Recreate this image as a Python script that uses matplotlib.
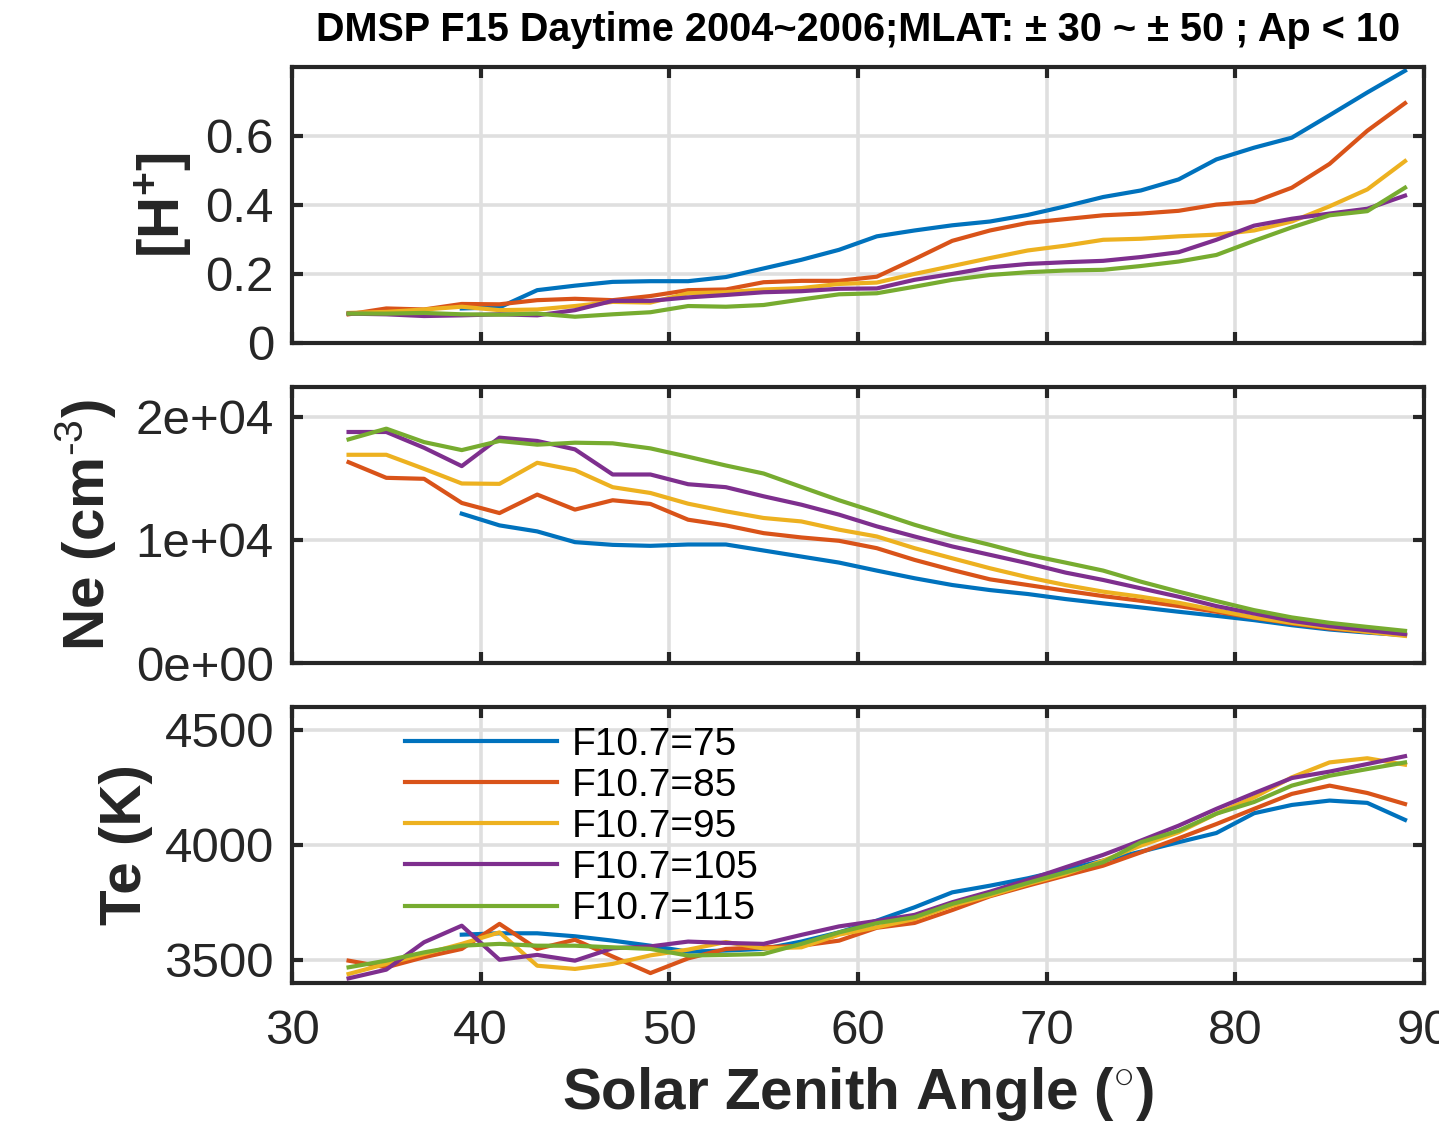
import numpy as np
import matplotlib
matplotlib.use('Agg')
import matplotlib.pyplot as plt
from matplotlib.ticker import FuncFormatter

plt.rcParams['font.family'] = ['Liberation Sans', 'DejaVu Sans']
plt.rcParams['mathtext.fontset'] = 'custom'
plt.rcParams['mathtext.rm'] = 'Liberation Sans'
plt.rcParams['mathtext.bf'] = 'Liberation Sans:bold'
plt.rcParams['mathtext.default'] = 'bf'

# solar zenith angle bins
sza = [33, 35, 37, 39, 41, 43, 45, 47, 49, 51, 53, 55, 57, 59, 61,
       63, 65, 67, 69, 71, 73, 75, 77, 79, 81, 83, 85, 87, 89]
nan = np.nan
labels = ['F10.7=75', 'F10.7=85', 'F10.7=95', 'F10.7=105', 'F10.7=115']
colors = ['#0072BD', '#D95319', '#EDB120', '#7E2F8E', '#77AC30']

# [H+] fraction
h_75 = [nan, nan, nan, 0.100, 0.103, 0.153, 0.166, 0.177, 0.179, 0.179, 0.191, 0.216, 0.241, 0.270, 0.309,
        0.326, 0.341, 0.352, 0.371, 0.396, 0.423, 0.442, 0.474, 0.532, 0.566, 0.595, 0.660, 0.726, 0.789]
h_85 = [0.083, 0.100, 0.097, 0.113, 0.112, 0.124, 0.128, 0.124, 0.136, 0.153, 0.155, 0.176, 0.180, 0.180, 0.192,
        0.243, 0.296, 0.326, 0.348, 0.359, 0.370, 0.375, 0.383, 0.401, 0.409, 0.450, 0.519, 0.615, 0.695]
h_95 = [0.087, 0.090, 0.097, 0.105, 0.095, 0.097, 0.107, 0.119, 0.117, 0.144, 0.147, 0.155, 0.159, 0.171, 0.175,
        0.200, 0.223, 0.246, 0.268, 0.282, 0.299, 0.302, 0.309, 0.314, 0.326, 0.352, 0.396, 0.445, 0.527]
h_105 = [0.085, 0.083, 0.078, 0.080, 0.083, 0.080, 0.095, 0.122, 0.122, 0.132, 0.139, 0.147, 0.150, 0.157, 0.158,
         0.183, 0.200, 0.219, 0.229, 0.234, 0.238, 0.249, 0.263, 0.299, 0.340, 0.360, 0.375, 0.389, 0.427]
h_115 = [0.085, 0.085, 0.087, 0.083, 0.082, 0.085, 0.076, 0.083, 0.089, 0.107, 0.105, 0.110, 0.126, 0.141, 0.144,
         0.163, 0.183, 0.197, 0.205, 0.210, 0.212, 0.223, 0.236, 0.255, 0.296, 0.335, 0.370, 0.382, 0.450]

# Ne (thousands of cm^-3)
ne_75 = [nan, nan, nan, 12.12, 11.17, 10.68, 9.81, 9.59, 9.51, 9.62, 9.62, 9.13, 8.64, 8.15, 7.50,
         6.88, 6.33, 5.92, 5.60, 5.19, 4.84, 4.51, 4.16, 3.83, 3.48, 3.07, 2.72, 2.47, 2.26]
ne_85 = [16.3, 15.03, 14.95, 12.99, 12.17, 13.67, 12.45, 13.21, 12.91, 11.63, 11.17, 10.54, 10.19, 9.92, 9.32,
         8.37, 7.55, 6.79, 6.33, 5.87, 5.43, 5.05, 4.62, 4.16, 3.67, 3.21, 2.80, 2.53, 2.26]
ne_95 = [16.9, 16.9, 15.76, 14.57, 14.54, 16.25, 15.65, 14.27, 13.8, 12.93, 12.31, 11.77, 11.49, 10.82, 10.27,
         9.32, 8.50, 7.69, 6.96, 6.33, 5.79, 5.38, 4.89, 4.29, 3.70, 3.26, 2.88, 2.53, 2.20]
ne_105 = [18.75, 18.75, 17.47, 15.98, 18.29, 18.02, 17.34, 15.3, 15.3, 14.51, 14.27, 13.53, 12.85, 12.04, 11.09,
          10.27, 9.46, 8.78, 8.10, 7.34, 6.74, 6.06, 5.38, 4.62, 4.02, 3.42, 2.99, 2.66, 2.34]
ne_115 = [18.15, 19.02, 17.93, 17.28, 18.02, 17.72, 17.88, 17.83, 17.42, 16.74, 16.03, 15.38, 14.29, 13.21, 12.23,
          11.22, 10.33, 9.59, 8.78, 8.15, 7.50, 6.60, 5.79, 5.03, 4.29, 3.70, 3.26, 2.93, 2.61]

# Te (K)
te_75 = [nan, nan, nan, 3610, 3616, 3616, 3603, 3584, 3562, 3536, 3541, 3548, 3580, 3620, 3671,
         3729, 3794, 3823, 3855, 3893, 3932, 3971, 4012, 4052, 4138, 4174, 4193, 4183, 4109]
te_85 = [3497, 3468, 3512, 3548, 3657, 3548, 3588, 3515, 3443, 3507, 3548, 3555, 3562, 3584, 3640,
         3661, 3717, 3777, 3823, 3867, 3910, 3968, 4029, 4091, 4157, 4222, 4258, 4226, 4178]
te_95 = [3439, 3483, 3526, 3570, 3620, 3475, 3461, 3483, 3520, 3545, 3578, 3550, 3555, 3610, 3642,
         3678, 3736, 3780, 3830, 3874, 3932, 3997, 4055, 4136, 4207, 4294, 4359, 4377, 4349]
te_105 = [3420, 3458, 3577, 3649, 3501, 3522, 3497, 3551, 3559, 3580, 3574, 3570, 3609, 3646, 3670,
          3696, 3751, 3797, 3848, 3903, 3957, 4019, 4084, 4157, 4225, 4291, 4319, 4352, 4386]
te_115 = [3468, 3497, 3533, 3562, 3570, 3562, 3562, 3555, 3548, 3519, 3522, 3526, 3570, 3620, 3660,
          3686, 3744, 3787, 3835, 3881, 3925, 4012, 4062, 4136, 4187, 4258, 4301, 4330, 4359]

hplus = [h_75, h_85, h_95, h_105, h_115]
ne = [ne_75, ne_85, ne_95, ne_105, ne_115]
te = [te_75, te_85, te_95, te_105, te_115]

dark = '#262626'
fig = plt.figure(figsize=(14.39, 11.27), dpi=100)
left, width, height = 0.2029, 0.7866, 0.2449
ax1 = fig.add_axes([left, 0.6957, width, height])
ax2 = fig.add_axes([left, 0.4117, width, height])
ax3 = fig.add_axes([left, 0.1278, width, height])

for ax in (ax1, ax2, ax3):
    ax.set_xlim(30, 90)
    ax.set_xticks(range(30, 91, 10))
    ax.grid(True, color='#dfdfdf', lw=2.6)
    ax.set_axisbelow(True)
    for s in ax.spines.values():
        s.set_color(dark)
        s.set_linewidth(3)
    ax.tick_params(direction='in', length=8, width=3, colors=dark, labelsize=35.5,
                   top=True, right=True, pad=13)
    ax.tick_params(axis='x', pad=19)

for i in range(5):
    ax1.plot(sza, hplus[i], color=colors[i], lw=3)
    ax2.plot(sza, np.array(ne[i]) * 1000, color=colors[i], lw=3)
    ax3.plot(sza, te[i], color=colors[i], lw=3, label=labels[i])

ax1.set_ylim(0, 0.8)
ax1.set_yticks([0, 0.2, 0.4, 0.6])
ax1.yaxis.set_major_formatter(FuncFormatter(lambda v, p: '%g' % v))
ax1.set_xticklabels([])
ax1.set_ylabel(r'[H$^{+}$]', fontsize=42, fontweight='bold', color=dark, labelpad=8)

ax2.set_ylim(0, 22400)
ax2.set_yticks([0, 10000, 20000])
ax2.yaxis.set_major_formatter(FuncFormatter(lambda v, p: '%.0e' % v))
ax2.set_xticklabels([])
ax2.set_ylabel(r'Ne (cm$^{\text{-3}}$)', fontsize=42, fontweight='bold', color=dark, labelpad=12)

ax3.set_ylim(3400, 4600)
ax3.set_yticks([3500, 4000, 4500])
ax3.set_ylabel('Te (K)', fontsize=42, fontweight='bold', color=dark, labelpad=8)
ax3.set_xlabel(r'Solar Zenith Angle ($^{\circ}$)', fontsize=42, fontweight='bold', color=dark, labelpad=8)

ax3.legend(loc='upper left', bbox_to_anchor=(0.2814, 0.355), bbox_transform=fig.transFigure,
           frameon=False, fontsize=28, handlelength=3.9, handletextpad=0.4, labelspacing=0.13,
           borderpad=0, borderaxespad=0)

fig.text(0.596, 0.973, 'DMSP F15 Daytime 2004~2006;MLAT: \u00b1 30 ~ \u00b1 50 ; Ap < 10',
         ha='center', va='center', fontsize=28.5, fontweight='bold', color='black')

fig.savefig('out.png', dpi=100)
